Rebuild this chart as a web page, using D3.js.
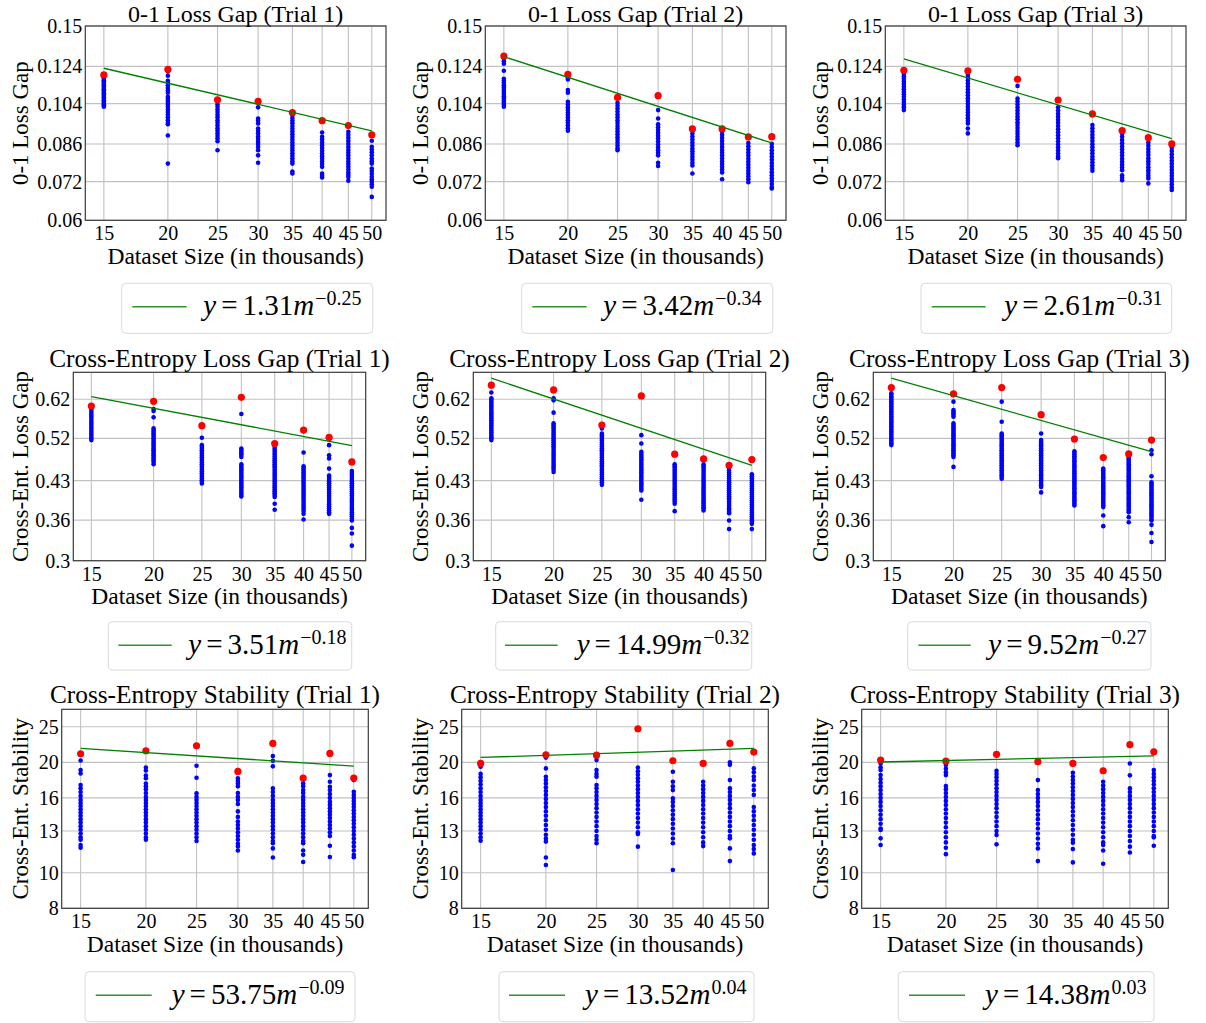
<!DOCTYPE html>
<html><head><meta charset="utf-8">
<script src="https://cdn.jsdelivr.net/npm/d3@7"></script>
<style>
body{margin:0;background:#fff}
svg{display:block}
text{font-family:"Liberation Serif","Times New Roman",serif;fill:#000}
</style>
</head><body>
<svg id="chart" width="1206" height="1023"></svg>
<script>
// ---------------- data ----------------
const xCategories = [15, 20, 25, 30, 35, 40, 45, 50];
const xTickLabels = ["15", "20", "25", "30", "35", "40", "45", "50"];

const yTicksLoss01 = [0.06, 0.072, 0.086, 0.104, 0.124, 0.15];
const yTickLabelsLoss01 = ["0.06", "0.072", "0.086", "0.104", "0.124", "0.15"];
const yTicksCE = [0.3, 0.36, 0.43, 0.52, 0.62];
const yTickLabelsCE = ["0.3", "0.36", "0.43", "0.52", "0.62"];
const yTicksStab = [8, 10, 13, 16, 20, 25];
const yTickLabelsStab = ["8", "10", "13", "16", "20", "25"];

const panelTitles = [
  "0-1 Loss Gap (Trial 1)", "0-1 Loss Gap (Trial 2)", "0-1 Loss Gap (Trial 3)",
  "Cross-Entropy Loss Gap (Trial 1)", "Cross-Entropy Loss Gap (Trial 2)", "Cross-Entropy Loss Gap (Trial 3)",
  "Cross-Entropy Stability (Trial 1)", "Cross-Entropy Stability (Trial 2)", "Cross-Entropy Stability (Trial 3)"
];
const yLabels = ["0-1 Loss Gap", "Cross-Ent. Loss Gap", "Cross-Ent. Stability"];
const xLabel = "Dataset Size (in thousands)";

const fitCoef = ["1.31", "3.42", "2.61", "3.51", "14.99", "9.52", "53.75", "13.52", "14.38"];
const fitExp = ["\u22120.25", "\u22120.34", "\u22120.31", "\u22120.18", "\u22120.32", "\u22120.27", "\u22120.09", "0.04", "0.03"];
// fitted curve value at m = 15 and m = 50
const fitAt15 = [0.1229, 0.1298, 0.1284, 0.6275, 0.6817, 0.6817, 21.83, 20.62, 20.04];
const fitAt50 = [0.0915, 0.0864, 0.0882, 0.5036, 0.4608, 0.4900, 19.53, 21.83, 20.84];

// ---- 0-1 loss gap ----
const loss01T1Max = [0.1191, 0.1223, 0.1059, 0.1052, 0.0997, 0.0960, 0.0938, 0.0898];
const loss01T1Runs = [
  [0.1178,0.1170,0.1162,0.1155,0.1148,0.1141,0.1134,0.1127,0.1120,0.1113,0.1106,0.1099,0.1092,0.1085,0.1078,0.1071,0.1064,0.1057,0.1050,0.1043,0.1037,0.1031,0.1025],
  [0.1210,0.1186,0.1158,0.1148,0.1134,0.1120,0.1106,0.1095,0.1074,0.1064,0.1054,0.1044,0.1035,0.1025,0.1012,0.1000,0.0987,0.0975,0.0962,0.0950,0.0944,0.0895,0.0784],
  [0.1037,0.1025,0.1012,0.1000,0.0987,0.0975,0.0962,0.0950,0.0938,0.0926,0.0915,0.0904,0.0893,0.0882,0.0871,0.0835],
  [0.1022,0.0970,0.0959,0.0947,0.0925,0.0914,0.0903,0.0891,0.0880,0.0869,0.0860,0.0848,0.0835,0.0815,0.0787],
  [0.0985,0.0972,0.0960,0.0948,0.0936,0.0924,0.0912,0.0900,0.0889,0.0877,0.0866,0.0855,0.0844,0.0834,0.0823,0.0813,0.0803,0.0793,0.0784,0.0755,0.0748],
  [0.0908,0.0890,0.0878,0.0866,0.0855,0.0844,0.0833,0.0822,0.0812,0.0802,0.0792,0.0782,0.0772,0.0748,0.0740,0.0734],
  [0.0911,0.0898,0.0885,0.0872,0.0860,0.0848,0.0836,0.0825,0.0814,0.0803,0.0792,0.0782,0.0772,0.0762,0.0752,0.0744,0.0736,0.0723],
  [0.0873,0.0849,0.0838,0.0827,0.0815,0.0803,0.0793,0.0784,0.0766,0.0757,0.0747,0.0737,0.0728,0.0720,0.0711,0.0703,0.0670]
];
const loss01T2Max = [0.1302, 0.1194, 0.1071, 0.1080, 0.0923, 0.0923, 0.0889, 0.0890];
const loss01T2Runs = [
  [0.1285,0.1270,0.1255,0.1215,0.1170,0.1158,0.1146,0.1134,0.1122,0.1110,0.1099,0.1088,0.1077,0.1066,0.1055,0.1045,0.1035,0.1025],
  [0.1177,0.1166,0.1109,0.1095,0.1049,0.1036,0.1023,0.1010,0.0998,0.0986,0.0974,0.0962,0.0950,0.0938,0.0926,0.0915],
  [0.1044,0.1030,0.1016,0.1002,0.0988,0.0975,0.0962,0.0949,0.0936,0.0924,0.0912,0.0900,0.0888,0.0876,0.0865,0.0854,0.0843,0.0835],
  [0.1009,0.0970,0.0944,0.0931,0.0918,0.0906,0.0894,0.0882,0.0870,0.0858,0.0846,0.0835,0.0825,0.0815,0.0787,0.0775],
  [0.0904,0.0891,0.0878,0.0866,0.0854,0.0842,0.0831,0.0820,0.0809,0.0798,0.0787,0.0777,0.0748],
  [0.0911,0.0898,0.0885,0.0872,0.0860,0.0848,0.0836,0.0825,0.0814,0.0803,0.0792,0.0782,0.0772,0.0762,0.0752,0.0728],
  [0.0864,0.0851,0.0838,0.0826,0.0814,0.0802,0.0791,0.0780,0.0769,0.0758,0.0748,0.0738,0.0728,0.0718],
  [0.0861,0.0848,0.0835,0.0822,0.0810,0.0798,0.0786,0.0775,0.0764,0.0753,0.0742,0.0732,0.0722,0.0712,0.0702,0.0697]
];
const loss01T3Max = [0.1217, 0.1214, 0.1167, 0.1058, 0.0991, 0.0916, 0.0886, 0.0860];
const loss01T3Runs = [
  [0.1197,0.1183,0.1169,0.1155,0.1141,0.1127,0.1113,0.1100,0.1087,0.1074,0.1061,0.1048,0.1035,0.1022,0.1009],
  [0.1192,0.1176,0.1160,0.1144,0.1128,0.1112,0.1097,0.1082,0.1067,0.1053,0.1039,0.1025,0.1011,0.0997,0.0984,0.0971,0.0958,0.0947,0.0925,0.0904],
  [0.1131,0.1066,0.1051,0.1036,0.1021,0.1007,0.0993,0.0979,0.0966,0.0953,0.0940,0.0927,0.0914,0.0902,0.0890,0.0878,0.0866,0.0855],
  [0.1022,0.1007,0.0992,0.0978,0.0964,0.0950,0.0936,0.0922,0.0909,0.0896,0.0883,0.0870,0.0858,0.0846,0.0834,0.0822,0.0811,0.0804],
  [0.0940,0.0926,0.0912,0.0898,0.0885,0.0872,0.0859,0.0847,0.0835,0.0823,0.0811,0.0800,0.0789,0.0778,0.0768,0.0758],
  [0.0904,0.0890,0.0876,0.0863,0.0850,0.0838,0.0826,0.0814,0.0802,0.0791,0.0780,0.0770,0.0760,0.0742,0.0733,0.0725],
  [0.0866,0.0853,0.0840,0.0828,0.0816,0.0804,0.0793,0.0782,0.0771,0.0760,0.0750,0.0740,0.0731,0.0714],
  [0.0845,0.0832,0.0819,0.0807,0.0795,0.0783,0.0772,0.0761,0.0750,0.0740,0.0730,0.0720,0.0710,0.0700,0.0692]
];

// ---- cross-entropy loss gap ----
const ceT1Max = [0.6015, 0.6144, 0.5505, 0.6256, 0.5082, 0.5398, 0.5222, 0.4678];
const ceT1Runs = [
  [0.5934,0.5880,0.5826,0.5777,0.5730,0.5680,0.5624,0.5575,0.5525,0.5475,0.5430,0.5380,0.5330,0.5285,0.5235,0.5190,0.5160],
  [0.5934,0.5880,0.5716,0.5439,0.5398,0.5358,0.5318,0.5278,0.5238,0.5199,0.5160,0.5121,0.5083,0.5045,0.5006,0.4969,0.4932,0.4895,0.4858,0.4821,0.4785,0.4749,0.4714,0.4678,0.4629],
  [0.5214,0.5044,0.5005,0.4966,0.4928,0.4889,0.4851,0.4813,0.4776,0.4738,0.4701,0.4664,0.4628,0.4591,0.4555,0.4519,0.4484,0.4448,0.4413,0.4378,0.4344,0.4310,0.4277,0.4245],
  [0.5803,0.4968,0.4934,0.4900,0.4865,0.4830,0.4785,0.4629,0.4594,0.4560,0.4525,0.4490,0.4455,0.4420,0.4385,0.4350,0.4315,0.4280,0.4245,0.4210,0.4175,0.4140,0.4105,0.4070,0.4038,0.4006],
  [0.5006,0.4963,0.4920,0.4877,0.4835,0.4793,0.4752,0.4711,0.4670,0.4630,0.4590,0.4550,0.4511,0.4472,0.4433,0.4395,0.4357,0.4319,0.4282,0.4245,0.4208,0.4172,0.4136,0.4100,0.4065,0.4030,0.3994,0.3876,0.3772],
  [0.4880,0.4588,0.4546,0.4505,0.4464,0.4423,0.4383,0.4343,0.4303,0.4264,0.4225,0.4186,0.4148,0.4110,0.4072,0.4035,0.3998,0.3962,0.3926,0.3890,0.3854,0.3819,0.3785,0.3750,0.3704,0.3610],
  [0.5044,0.4821,0.4750,0.4540,0.4400,0.4372,0.4331,0.4290,0.4250,0.4210,0.4170,0.4130,0.4092,0.4055,0.4018,0.3980,0.3942,0.3905,0.3869,0.3833,0.3797,0.3762,0.3730,0.3704],
  [0.4491,0.4450,0.4410,0.4370,0.4330,0.4290,0.4250,0.4211,0.4173,0.4134,0.4096,0.4058,0.4020,0.3982,0.3945,0.3909,0.3873,0.3837,0.3802,0.3767,0.3732,0.3697,0.3663,0.3628,0.3594,0.3477,0.3390,0.3210]
];
const ceT2Max = [0.6606, 0.6467, 0.5522, 0.6294, 0.4843, 0.4742, 0.4608, 0.4728];
const ceT2Runs = [
  [0.6390,0.6228,0.6184,0.6140,0.6095,0.6050,0.6005,0.5960,0.5915,0.5870,0.5825,0.5780,0.5735,0.5690,0.5645,0.5600,0.5558,0.5515,0.5472,0.5430,0.5388,0.5345,0.5303,0.5260,0.5225,0.5190,0.5160],
  [0.6228,0.6170,0.5838,0.5563,0.5516,0.5470,0.5425,0.5380,0.5335,0.5290,0.5245,0.5200,0.5155,0.5110,0.5065,0.5020,0.4978,0.4935,0.4892,0.4850,0.4808,0.4765,0.4722,0.4680,0.4640,0.4600,0.4560,0.4520,0.4472],
  [0.5439,0.5317,0.5274,0.5230,0.5188,0.5145,0.5102,0.5060,0.5018,0.4975,0.4932,0.4890,0.4850,0.4810,0.4770,0.4730,0.4690,0.4650,0.4610,0.4570,0.4532,0.4495,0.4458,0.4420,0.4382,0.4345,0.4308,0.4270,0.4220],
  [0.5277,0.5082,0.4895,0.4855,0.4815,0.4775,0.4735,0.4695,0.4655,0.4618,0.4580,0.4542,0.4505,0.4468,0.4430,0.4392,0.4355,0.4320,0.4285,0.4250,0.4215,0.4182,0.4150,0.4116,0.3946],
  [0.4629,0.4590,0.4550,0.4510,0.4470,0.4431,0.4392,0.4353,0.4315,0.4277,0.4240,0.4203,0.4166,0.4130,0.4093,0.4058,0.4022,0.3987,0.3952,0.3914,0.3876,0.3749],
  [0.4629,0.4590,0.4550,0.4510,0.4470,0.4431,0.4392,0.4353,0.4315,0.4277,0.4240,0.4203,0.4166,0.4130,0.4093,0.4058,0.4022,0.3987,0.3952,0.3918,0.3883,0.3849,0.3815,0.3788,0.3760],
  [0.4540,0.4500,0.4460,0.4421,0.4382,0.4343,0.4305,0.4268,0.4230,0.4192,0.4155,0.4118,0.4082,0.4046,0.4010,0.3975,0.3940,0.3905,0.3870,0.3835,0.3800,0.3768,0.3735,0.3715,0.3594,0.3458],
  [0.4425,0.4385,0.4345,0.4305,0.4265,0.4228,0.4190,0.4152,0.4115,0.4078,0.4040,0.4004,0.3968,0.3932,0.3897,0.3862,0.3828,0.3794,0.3760,0.3726,0.3692,0.3659,0.3626,0.3598,0.3570,0.3541,0.3458]
];
const ceT3Max = [0.6536, 0.6351, 0.6536, 0.5785, 0.5183, 0.4771, 0.4849, 0.5160];
const ceT3Runs = [
  [0.6370,0.6325,0.6280,0.6235,0.6190,0.6145,0.6100,0.6055,0.6010,0.5965,0.5920,0.5875,0.5830,0.5788,0.5745,0.5702,0.5660,0.5618,0.5575,0.5532,0.5490,0.5449,0.5408,0.5366,0.5325,0.5285,0.5245,0.5205,0.5165,0.5125,0.5085,0.5045],
  [0.6135,0.5908,0.5864,0.5820,0.5776,0.5733,0.5563,0.5521,0.5480,0.5439,0.5398,0.5357,0.5317,0.5277,0.5238,0.5199,0.5160,0.5121,0.5082,0.5044,0.5006,0.4968,0.4931,0.4894,0.4858,0.4821,0.4785,0.4574],
  [0.6135,0.5605,0.5317,0.5277,0.5238,0.5199,0.5160,0.5121,0.5082,0.5044,0.5006,0.4968,0.4931,0.4894,0.4858,0.4821,0.4785,0.4749,0.4714,0.4678,0.4643,0.4608,0.4574,0.4539,0.4505,0.4471,0.4438,0.4405,0.4372,0.4339],
  [0.5317,0.5160,0.5121,0.5082,0.5044,0.5006,0.4968,0.4931,0.4894,0.4858,0.4821,0.4785,0.4749,0.4714,0.4678,0.4643,0.4608,0.4574,0.4539,0.4505,0.4471,0.4438,0.4405,0.4372,0.4339,0.4306,0.4274,0.4242,0.4210,0.4179,0.4079],
  [0.4909,0.4872,0.4835,0.4798,0.4762,0.4726,0.4690,0.4655,0.4620,0.4585,0.4550,0.4516,0.4482,0.4448,0.4414,0.4381,0.4348,0.4315,0.4283,0.4250,0.4218,0.4186,0.4155,0.4123,0.4092,0.4061,0.4030,0.4000,0.3969,0.3938,0.3908,0.3877,0.3847],
  [0.4540,0.4505,0.4470,0.4435,0.4400,0.4365,0.4330,0.4296,0.4262,0.4228,0.4195,0.4162,0.4130,0.4097,0.4065,0.4032,0.4000,0.3968,0.3935,0.3905,0.3875,0.3846,0.3818,0.3676,0.3504],
  [0.4771,0.4735,0.4700,0.4665,0.4630,0.4595,0.4560,0.4525,0.4490,0.4455,0.4420,0.4388,0.4355,0.4322,0.4290,0.4258,0.4225,0.4192,0.4160,0.4128,0.4095,0.4063,0.4032,0.4001,0.3970,0.3940,0.3910,0.3880,0.3850,0.3820,0.3790,0.3761,0.3732,0.3649,0.3567],
  [0.4931,0.4843,0.4385,0.4267,0.4233,0.4200,0.4165,0.4130,0.4096,0.4062,0.4028,0.3995,0.3962,0.3930,0.3898,0.3866,0.3834,0.3803,0.3772,0.3740,0.3710,0.3680,0.3650,0.3620,0.3594,0.3525,0.3399,0.3264]
];

// ---- cross-entropy stability ----
const stabT1Max = [21.11, 21.51, 22.19, 18.89, 22.52, 18.12, 21.15, 18.12];
const stabT1Runs = [
  [20.24,19.05,18.65,17.34,17.0,16.6,16.2,15.8,15.5,15.2,14.9,14.6,14.3,14.0,13.7,13.4,13.1,12.8,12.5,12.3,11.9,11.7],
  [19.37,19.0,18.4,18.1,17.5,17.2,16.9,16.5,16.1,15.8,15.5,15.2,14.9,14.6,14.3,14.0,13.7,13.4,13.1,12.8,12.5,12.3],
  [19.57,18.16,16.46,16.1,15.8,15.5,15.2,14.9,14.6,14.3,14.0,13.7,13.4,13.1,12.8,12.5,12.2],
  [18.08,17.8,17.5,17.2,16.5,16.1,15.8,15.4,14.7,14.2,13.8,13.5,13.2,12.9,12.6,12.3,12.0,11.8,11.5],
  [20.8,20.2,19.5,16.98,16.6,16.2,15.8,15.5,15.2,14.9,14.6,14.3,14.0,13.7,13.4,13.1,12.8,12.5,12.2,12.03,11.65,11.0],
  [17.52,17.2,16.8,16.5,16.1,15.8,15.5,15.2,14.9,14.6,14.3,14.0,13.7,13.4,13.1,12.8,12.5,12.2,12.03,11.5,11.2,10.7],
  [18.46,17.7,17.16,16.8,16.4,16.0,15.6,15.3,15.0,14.7,14.4,14.1,13.8,13.5,13.2,12.9,12.6,11.85,11.04],
  [17.89,16.63,16.3,16.0,15.7,15.4,15.1,14.8,14.5,14.2,13.9,13.6,13.3,13.0,12.7,12.4,12.1,11.8,11.5,11.2,11.02]
];
const stabT2Max = [19.86, 20.96, 20.92, 24.69, 20.2, 19.86, 22.52, 21.33];
const stabT2Runs = [
  [19.45,18.6,18.2,17.8,17.4,17.0,16.6,16.2,15.8,15.5,15.2,14.9,14.6,14.3,14.0,13.7,13.4,13.1,12.8,12.5,12.23],
  [20.6,19.25,18.27,17.9,17.5,17.1,16.7,16.3,15.9,15.5,15.1,14.7,14.3,13.9,13.5,13.1,12.7,12.4,12.16,11.0,10.5],
  [20.28,19.05,18.6,18.27,17.34,17.0,16.6,16.2,15.8,15.4,15.0,14.6,14.2,13.8,13.4,13.0,12.6,12.3,12.03],
  [19.37,18.9,18.5,18.1,17.7,17.3,16.9,16.5,16.1,15.7,15.3,14.9,14.5,14.1,13.7,13.3,12.9,12.76,11.78],
  [18.85,17.7,17.2,16.8,15.95,15.6,15.2,14.8,14.4,14.0,13.6,13.2,12.8,12.4,12.03,10.17],
  [17.7,17.3,16.9,16.5,16.1,15.7,15.3,14.9,14.5,14.1,13.7,13.3,12.9,12.5,12.1,11.82],
  [20.0,19.7,17.89,16.98,16.6,16.2,15.8,15.4,15.0,14.6,14.2,13.8,13.4,13.0,12.6,12.41,11.65,10.76],
  [19.25,18.8,18.3,17.9,17.3,16.8,16.3,15.1,14.7,14.3,13.9,13.5,13.1,12.7,12.3,11.9,11.6,11.29]
];
const stabT3Max = [20.28, 20.16, 21.03, 20.08, 19.86, 18.97, 22.35, 21.37];
const stabT3Runs = [
  [19.86,19.4,19.05,18.46,18.0,17.6,17.2,16.8,16.4,16.0,15.6,15.2,14.8,14.4,14.0,13.6,13.2,13.08,12.41,11.9],
  [19.66,19.2,18.8,18.46,17.23,16.9,16.5,16.1,15.7,15.3,14.9,14.5,14.1,13.7,13.3,12.9,12.5,12.1,11.7,11.24],
  [18.97,18.6,18.2,17.8,17.4,17.0,16.6,16.2,15.8,15.4,15.0,14.6,14.2,13.8,13.4,13.0,12.67,11.95],
  [17.89,16.8,16.4,16.0,15.6,15.2,14.8,14.4,14.0,13.6,13.2,12.8,12.4,12.0,11.65,10.76],
  [18.73,18.3,17.9,17.5,17.1,16.7,16.3,15.9,15.5,15.1,14.7,14.3,13.9,13.5,13.1,12.7,12.3,12.08,11.6,10.67],
  [17.7,17.3,16.9,16.5,16.1,15.7,15.3,14.9,14.5,14.1,13.7,13.3,12.9,12.5,12.1,11.9,11.5,10.58],
  [19.86,18.43,16.98,16.6,16.2,15.8,15.4,15.0,14.6,14.2,13.8,13.4,13.0,12.6,12.2,11.78,11.36],
  [19.05,18.6,18.2,17.8,17.4,17.0,16.6,16.2,15.8,15.4,15.0,14.6,14.2,13.8,13.4,13.0,12.6,12.49,11.85]
];

// ---------------- layout (not data) ----------------
const xDomain = [13.8, 53.3];
const rowLayout = [
  {top: 26, bottom: 220.3, left: [85.3, 485.3, 885.3], right: [386, 786, 1186], legY: 283.3, legH: 50,
   titleSize: 24, titleBase: 21.5,
   yTicks: yTicksLoss01, yTickLabels: yTickLabelsLoss01, yDomain: [0.06, 0.15]},
  {top: 372.3, bottom: 560.7, left: [73.3, 473.3, 873.3], right: [365.7, 765.7, 1165.3], legY: 621.7, legH: 48.3,
   titleSize: 25.3, titleBase: 366.7,
   yTicks: yTicksCE, yTickLabels: yTickLabelsCE, yDomain: [0.3, 0.70]},
  {top: 709.3, bottom: 908.3, left: [61.7, 461.7, 861.7], right: [368.3, 768.3, 1168.3], legY: 971.7, legH: 50,
   titleSize: 25.3, titleBase: 703.3,
   yTicks: yTicksStab, yTickLabels: yTickLabelsStab, yDomain: [8, 27.9]}
];
const colOffset = [0, 400, 800];
// legend box x, width, line x1, line x2, text x  (row-major)
const legendLayout = [
  [121.7, 251, 132.3, 186.7, 203.3], [521.7, 251, 532.3, 586.7, 603.3], [921, 250.7, 931.7, 985.7, 1004.3],
  [108.3, 243.4, 118.3, 171.7, 188.3], [495.7, 256, 505, 557.7, 576.7], [907.7, 243.3, 918.3, 970.7, 988.3],
  [85, 270, 95.7, 151.7, 171.7], [499, 255, 509, 565, 585], [898.3, 255.7, 909, 965, 985]
];

const maxSeries = [loss01T1Max, loss01T2Max, loss01T3Max, ceT1Max, ceT2Max, ceT3Max, stabT1Max, stabT2Max, stabT3Max];
const runSeries = [loss01T1Runs, loss01T2Runs, loss01T3Runs, ceT1Runs, ceT2Runs, ceT3Runs, stabT1Runs, stabT2Runs, stabT3Runs];

const FS = {tick: 20, xlabel: 23.5, ylabel: 23, legend: 29, sup: 20};

const svg = d3.select("#chart");

for (let p = 0; p < 9; p++) {
  const row = Math.floor(p / 3), col = p % 3;
  const R = rowLayout[row];
  const L = R.left[col], Rt = R.right[col], T = R.top, B = R.bottom;
  const x = d3.scaleLog().domain(xDomain).range([L, Rt]);
  const y = d3.scaleLog().domain(R.yDomain).range([B, T]);
  const g = svg.append("g");

  // grid
  g.append("g").selectAll("line").data(xCategories).join("line")
    .attr("x1", d => x(d)).attr("x2", d => x(d)).attr("y1", T).attr("y2", B)
    .attr("stroke", "#c2c2c2").attr("stroke-width", 1.1);
  g.append("g").selectAll("line").data(R.yTicks).join("line")
    .attr("x1", L).attr("x2", Rt).attr("y1", d => y(d)).attr("y2", d => y(d))
    .attr("stroke", "#c2c2c2").attr("stroke-width", 1.1);

  // blue runs
  const pts = runSeries[p].flatMap((arr, i) => arr.map(v => ({x: xCategories[i], y: v})));
  g.append("g").selectAll("circle").data(pts).join("circle")
    .attr("cx", d => x(d.x)).attr("cy", d => y(d.y)).attr("r", 2.3).attr("fill", "#0000ff");
  // red max
  g.append("g").selectAll("circle").data(maxSeries[p]).join("circle")
    .attr("cx", (d, i) => x(xCategories[i])).attr("cy", d => y(d)).attr("r", 3.6).attr("fill", "#ff0000");
  // fit line
  const fitPts = [[xCategories[0], fitAt15[p]], [xCategories[xCategories.length - 1], fitAt50[p]]];
  g.append("path").datum(fitPts)
    .attr("d", d3.line().x(d => x(d[0])).y(d => y(d[1])))
    .attr("fill", "none").attr("stroke", "#008000").attr("stroke-width", 1.3);

  // frame
  g.append("rect").attr("x", L).attr("y", T).attr("width", Rt - L).attr("height", B - T)
    .attr("fill", "none").attr("stroke", "#3a3a3a").attr("stroke-width", 1.2);

  // tick labels via d3 axes
  const xa = g.append("g").attr("transform", `translate(0,${B})`)
    .call(d3.axisBottom(x).tickValues(xCategories).tickFormat((d, i) => xTickLabels[i]).tickSize(0).tickPadding(6));
  xa.select(".domain").remove();
  xa.selectAll("text").attr("font-size", FS.tick).attr("font-family", "Liberation Serif, serif").attr("fill", "#000");
  const ya = g.append("g").attr("transform", `translate(${L},0)`)
    .call(d3.axisLeft(y).tickValues(R.yTicks).tickFormat((d, i) => R.yTickLabels[i]).tickSize(0).tickPadding(3));
  ya.select(".domain").remove();
  ya.selectAll("text").attr("font-size", FS.tick).attr("font-family", "Liberation Serif, serif").attr("fill", "#000");

  // title
  g.append("text").attr("x", (L + Rt) / 2).attr("y", R.titleBase).attr("text-anchor", "middle")
    .attr("font-size", R.titleSize).text(panelTitles[p]);
  // x label
  g.append("text").attr("x", (L + Rt) / 2).attr("y", B + 43.5).attr("text-anchor", "middle")
    .attr("font-size", FS.xlabel).text(xLabel);
  // y label
  g.append("text").attr("transform", `translate(${colOffset[col] + 27.5},${(T + B) / 2}) rotate(-90)`)
    .attr("text-anchor", "middle").attr("font-size", FS.ylabel).text(yLabels[row]);

  // legend
  const lg = legendLayout[p];
  const ly = R.legY;
  g.append("rect").attr("x", lg[0]).attr("y", ly).attr("width", lg[1]).attr("height", R.legH)
    .attr("rx", 4).attr("fill", "#fff").attr("stroke", "#dadada").attr("stroke-width", 1);
  g.append("line").attr("x1", lg[2]).attr("x2", lg[3]).attr("y1", ly + 23.5).attr("y2", ly + 23.5)
    .attr("stroke", "#2f942f").attr("stroke-width", 1.5);
  const t = g.append("text").attr("x", lg[4]).attr("y", ly + 32).attr("font-size", FS.legend);
  t.append("tspan").attr("font-style", "italic").text("y");
  t.append("tspan").attr("dx", 5).text("=");
  t.append("tspan").attr("dx", 5).text(fitCoef[p]);
  t.append("tspan").attr("font-style", "italic").text("m");
  t.append("tspan").attr("font-size", FS.sup).attr("dy", -10).attr("dx", 1).text(fitExp[p]);
}
</script>
</body></html>
